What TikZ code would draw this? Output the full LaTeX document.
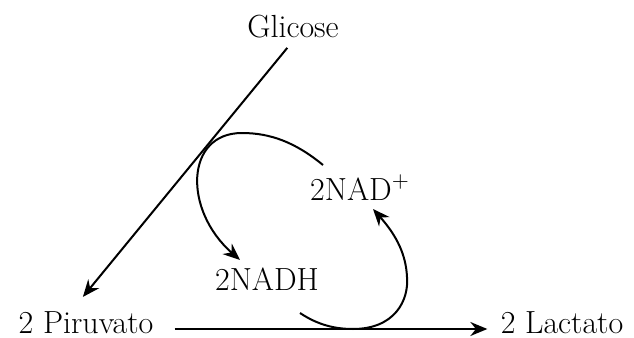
\documentclass[tikz,border=0pt]{standalone}
\usepackage{tikz}
\usetikzlibrary{arrows.meta,positioning}

\begin{document}
\begin{tikzpicture}[
 x=0.5pt,y=-0.5pt,
 t/.style={inner sep=1.5pt,anchor=base,font=\fontsize{16}{19}\selectfont},
 ln/.style={line width=1pt,draw=black},
 a/.style={ln,-{Stealth[length=8.5pt,width=7pt,inset=2.8pt]}}
]
\useasboundingbox (0,0) rectangle (634,338);
\node[t] (glic) at (293,37) {Glicose};
\node[t] (piru) at (86,333) {2 Piruvato};
\node[t] (lact) at (562,333) {2 Lactato};
\node[t] (nadp) at (360,200) {2NAD$^{+}$};
\node[t] (nadh) at (267,290) {2NADH};
\draw[a,shorten <=4.5pt,shorten >=7pt] (glic.south) -- ([xshift=-6pt]piru.north);
\draw[a,shorten <=9pt,shorten >=5pt] ([yshift=2pt]piru.base east) -- ([yshift=2pt]lact.base west);
\draw[a] ([xshift=-18.5pt,yshift=17.5pt]nadp.base) .. controls (295,142) and (270,133) .. (242,133)
 .. controls (185,133) and (183,210) .. ([xshift=-13.5pt,yshift=15pt]nadh.base);
\draw[a] ([xshift=16.5pt,yshift=-11.5pt]nadh.base) .. controls (318,325) and (335,329) .. (353,329)
 .. controls (395,329) and (409,300) .. (407,277) .. controls (406,255) and (397,236) .. ([xshift=6.5pt,yshift=-4.5pt]nadp.base);
\end{tikzpicture}
\end{document}
